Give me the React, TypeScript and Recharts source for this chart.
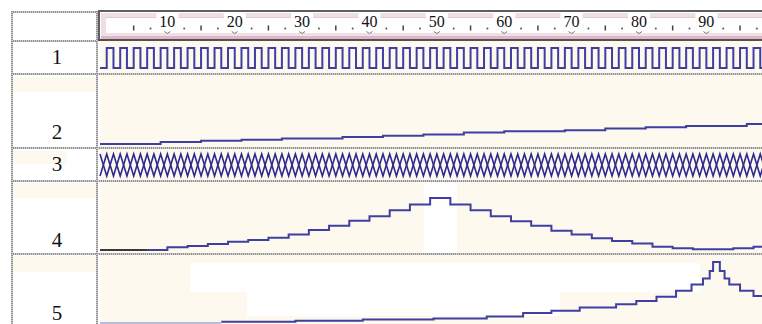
import React from 'react';
import { LineChart, Line, XAxis, YAxis } from 'recharts';

// ---------- data ----------
const X_DOMAIN: [number, number] = [0, 99];

const rulerLabels = [10, 20, 30, 40, 50, 60, 70, 80, 90];
const rulerBars = [5, 15, 25, 35, 45, 55, 65, 75, 85, 95];
const rulerDots = [7.5, 12.5, 17.5, 22.5, 27.5, 32.5, 37.5, 42.5, 47.5, 52.5, 57.5, 62.5, 67.5, 72.5, 77.5, 82.5, 87.5, 92.5, 97.5];

const rowNames = ['1', '2', '3', '4', '5'];

// row 1: clock, one value per time unit (t = 0..99)
const clockLevels = [
  0, 1, 0, 1, 0, 1, 0, 1, 0, 1, 0, 1, 0, 1, 0, 1, 0, 1, 0, 1,
  0, 1, 0, 1, 0, 1, 0, 1, 0, 1, 0, 1, 0, 1, 0, 1, 0, 1, 0, 1,
  0, 1, 0, 1, 0, 1, 0, 1, 0, 1, 0, 1, 0, 1, 0, 1, 0, 1, 0, 1,
  0, 1, 0, 1, 0, 1, 0, 1, 0, 1, 0, 1, 0, 1, 0, 1, 0, 1, 0, 1,
  0, 1, 0, 1, 0, 1, 0, 1, 0, 1, 0, 1, 0, 1, 0, 1, 0, 1, 0, 1,
];

// row 2: slow staircase ramp
const rampTimes = [0, 9, 15, 21, 27, 36, 42, 48, 54, 60, 69, 75, 81, 87, 96, 99];
const rampLevels = [0, 2, 3.3, 4.3, 5.7, 7, 8.3, 9.7, 11.7, 13, 14, 15.7, 17, 18.3, 20.3, 20.3];

// row 3: bus drawn as two antiphase traces (t = 0..99)
const busA = [
  0, 1, 0, 1, 0, 1, 0, 1, 0, 1, 0, 1, 0, 1, 0, 1, 0, 1, 0, 1,
  0, 1, 0, 1, 0, 1, 0, 1, 0, 1, 0, 1, 0, 1, 0, 1, 0, 1, 0, 1,
  0, 1, 0, 1, 0, 1, 0, 1, 0, 1, 0, 1, 0, 1, 0, 1, 0, 1, 0, 1,
  0, 1, 0, 1, 0, 1, 0, 1, 0, 1, 0, 1, 0, 1, 0, 1, 0, 1, 0, 1,
  0, 1, 0, 1, 0, 1, 0, 1, 0, 1, 0, 1, 0, 1, 0, 1, 0, 1, 0, 1,
];
const busB = [
  1, 0, 1, 0, 1, 0, 1, 0, 1, 0, 1, 0, 1, 0, 1, 0, 1, 0, 1, 0,
  1, 0, 1, 0, 1, 0, 1, 0, 1, 0, 1, 0, 1, 0, 1, 0, 1, 0, 1, 0,
  1, 0, 1, 0, 1, 0, 1, 0, 1, 0, 1, 0, 1, 0, 1, 0, 1, 0, 1, 0,
  1, 0, 1, 0, 1, 0, 1, 0, 1, 0, 1, 0, 1, 0, 1, 0, 1, 0, 1, 0,
  1, 0, 1, 0, 1, 0, 1, 0, 1, 0, 1, 0, 1, 0, 1, 0, 1, 0, 1, 0,
];

// row 4: triangle staircase
const triTimes = [0, 10, 13, 16, 19, 22, 25, 28, 31, 34, 37, 40, 43, 46, 49, 52, 55, 58, 61, 64, 67, 70, 73, 76, 79, 82, 85, 88, 94, 97, 99];
const triLevels = [0, 2.7, 4, 6, 8.3, 10, 12.3, 15.7, 20, 24.3, 29.3, 34, 40, 45.7, 52.3, 45.7, 40, 34, 29, 24.3, 19.3, 15.7, 11.7, 9, 6.5, 3.3, 1.7, 0.7, 1.7, 3.3, 3.3];
const triIdleTimes = [0, 7];
const triIdleLevels = [0, 0];

// row 5: slow rise with a sharp peak
const peakTimes = [18, 29, 39, 49.5, 57.4, 62.8, 67, 71.2, 76.6, 79.6, 82.6, 85.5, 87.8, 89.5, 90.5, 91, 92, 92.7, 93.4, 95, 97, 99];
const peakLevels = [1.3, 2.3, 3.6, 4.6, 6.6, 10, 12.3, 15.6, 19, 22.3, 26.6, 32.6, 39, 45, 52.6, 61.6, 52.6, 45, 39, 32.6, 27.3, 27.3];
const peakIdleTimes = [0, 18];
const peakIdleLevels = [0, 0];

// ---------- helpers ----------
const toSeries = (ts: number[], vs: number[]) => ts.map((t, i) => ({ t, v: vs[i] }));
const perUnit = (vs: number[]) => vs.map((v, i) => ({ t: i, v }));

const clockData = perUnit(clockLevels);
const rampData = toSeries(rampTimes, rampLevels);
const busAData = perUnit(busA);
const busBData = perUnit(busB);
const triData = toSeries(triTimes, triLevels);
const triIdleData = toSeries(triIdleTimes, triIdleLevels);
const peakData = toSeries(peakTimes, peakLevels);
const peakIdleData = toSeries(peakIdleTimes, peakIdleLevels);

const WAVE = '#3f3fa2';
const BUS = '#2c2c90';
const CREAM = '#fdf9ee';
const CHART_W = 767; // plot spans x=100..767 for t=0..99; page is cut at 762

const RulerTick = (props: any) => {
  const { x, payload } = props;
  const v = payload.value as number;
  if (rulerLabels.includes(v)) {
    return (
      <g>
        <rect x={x - 11} y={2} width={22} height={19} fill="#ffffff" />
        <text x={x} y={16} textAnchor="middle" fontFamily="Liberation Serif" fontSize={16} fill="#111">
          {v}
        </text>
        <path d={`M${x - 3},${20.5} L${x},${22.5} L${x + 3},${20.5}`} stroke="#777" fill="none" strokeWidth={1} />
      </g>
    );
  }
  if (rulerBars.includes(v)) {
    return <rect x={x - 0.75} y={14.5} width={1.5} height={5} fill="#444" />;
  }
  return <circle cx={x} cy={17.5} r={1} fill="#555" />;
};

const Box = ({ l, t, w, h, bg }: { l: number; t: number; w: number; h: number; bg: string }) => (
  <div style={{ position: 'absolute', left: l, top: t, width: w, height: h, background: bg }} />
);

const HDot = ({ y, x1, x2 }: { y: number; x1: number; x2: number }) => (
  <div
    style={{
      position: 'absolute', left: x1, top: y, width: x2 - x1, height: 2,
      background: 'repeating-linear-gradient(90deg, #8f8f8f 0 1px, #d0d0d0 1px 2px)',
    }}
  />
);
const VDot = ({ x, y1, y2 }: { x: number; y1: number; y2: number }) => (
  <div
    style={{
      position: 'absolute', left: x, top: y1, width: 2, height: y2 - y1,
      background: 'repeating-linear-gradient(180deg, #8f8f8f 0 1px, #d0d0d0 1px 2px)',
    }}
  />
);

type RowProps = { top: number; height: number; mt: number; mb: number; yMax: number; children: React.ReactNode };
const WaveRow = ({ top, height, mt, mb, yMax, children }: RowProps) => (
  <div style={{ position: 'absolute', left: 0, top, width: CHART_W, height }}>
    <LineChart width={CHART_W} height={height} margin={{ top: mt, right: 0, bottom: mb, left: 100 }}>
      <XAxis type="number" dataKey="t" domain={X_DOMAIN} hide />
      <YAxis type="number" domain={[0, yMax]} hide />
      {children}
    </LineChart>
  </div>
);

const labelCenters = [57, 132, 164, 240, 313];

export default function App() {
  const allTicks = [...rulerBars, ...rulerDots, ...rulerLabels].sort((a, b) => a - b);
  return (
    <div
      style={{
        position: 'absolute', left: 0, top: 0, width: 762, height: 324, overflow: 'hidden',
        background: '#ffffff', fontFamily: 'Liberation Serif',
      }}
    >
      {/* plot background */}
      <Box l={100} t={41} w={662} h={283} bg={CREAM} />
      {/* washed-out patches */}
      <Box l={424} t={183} w={33} h={70} bg="#ffffff" />
      <Box l={190} t={263} w={510} h={29} bg="#ffffff" />
      <Box l={247} t={292} w={313} h={24} bg="#ffffff" />
      {/* left column cream bands */}
      <Box l={13} t={77} w={84} h={15} bg={CREAM} />
      <Box l={13} t={151} w={54} h={13} bg={CREAM} />
      <Box l={13} t={183} w={84} h={15} bg={CREAM} />
      <Box l={13} t={256} w={84} h={16} bg={CREAM} />

      {/* ruler frame */}
      <Box l={100} t={13} w={662} h={27} bg="#ffffff" />
      <Box l={101} t={13} w={661} h={4} bg="#efdfe4" />
      <Box l={101} t={17} w={661} h={1} bg="#e2c8d0" />
      <Box l={101} t={13} w={5} h={26} bg="#efdfe4" />
      <Box l={101} t={33} w={661} h={3} bg="#efe0e5" />
      <Box l={101} t={36} w={661} h={3} bg="#d9bac4" />
      <Box l={98} t={10} w={664} h={2} bg="#5f5f5f" />
      <Box l={98} t={10} w={2} h={31} bg="#5f5f5f" />
      <Box l={98} t={39} w={664} h={2} bg="#5a4c52" />

      {/* grid */}
      <HDot y={11} x1={11} x2={98} />
      <HDot y={40} x1={11} x2={98} />
      <HDot y={73} x1={11} x2={762} />
      <HDot y={147} x1={11} x2={762} />
      <HDot y={180} x1={11} x2={762} />
      <HDot y={253} x1={11} x2={762} />
      <VDot x={11} y1={11} y2={324} />
      <VDot x={96} y1={11} y2={324} />

      {/* ruler + row 1 */}
      <div style={{ position: 'absolute', left: 0, top: 11, width: CHART_W, height: 63 }}>
        <LineChart width={CHART_W} height={63} margin={{ top: 0, right: 0, bottom: 6, left: 100 }}>
          <XAxis
            type="number"
            dataKey="t"
            domain={X_DOMAIN}
            orientation="top"
            height={37}
            ticks={allTicks}
            interval={0}
            tick={<RulerTick />}
            tickLine={false}
            axisLine={false}
          />
          <YAxis type="number" domain={[0, 1]} hide />
          <Line data={clockData} dataKey="v" type="stepAfter" stroke={WAVE} strokeWidth={2} dot={false} isAnimationActive={false} />
        </LineChart>
      </div>

      {/* row 2 */}
      <WaveRow top={74} height={74} mt={50} mb={4} yMax={20.3}>
        <Line data={rampData} dataKey="v" type="stepAfter" stroke={WAVE} strokeWidth={2} dot={false} isAnimationActive={false} />
      </WaveRow>

      {/* row 3 */}
      <WaveRow top={148} height={33} mt={6} mb={5} yMax={1}>
        <Line data={busAData} dataKey="v" type="linear" stroke={BUS} strokeWidth={1.6} dot={false} isAnimationActive={false} />
        <Line data={busBData} dataKey="v" type="linear" stroke={BUS} strokeWidth={1.6} dot={false} isAnimationActive={false} />
      </WaveRow>

      {/* row 4 */}
      <WaveRow top={181} height={73} mt={17} mb={4} yMax={52.3}>
        <Line data={triData} dataKey="v" type="stepAfter" stroke={WAVE} strokeWidth={2} dot={false} isAnimationActive={false} />
        <Line data={triIdleData} dataKey="v" type="stepAfter" stroke="#3a3a3a" strokeWidth={2} dot={false} isAnimationActive={false} />
      </WaveRow>

      {/* row 5 */}
      <WaveRow top={254} height={70} mt={8} mb={1} yMax={61.6}>
        <Line data={peakIdleData} dataKey="v" type="stepAfter" stroke="#b9b9dd" strokeWidth={2} dot={false} isAnimationActive={false} />
        <Line data={peakData} dataKey="v" type="stepAfter" stroke={WAVE} strokeWidth={2} dot={false} isAnimationActive={false} />
      </WaveRow>

      {/* row labels */}
      {rowNames.map((n, i) => (
        <div
          key={n}
          style={{
            position: 'absolute', left: 37, width: 40, top: labelCenters[i] - 10, height: 20,
            lineHeight: '20px', fontSize: 21, textAlign: 'center', color: '#111',
            fontFamily: 'Liberation Serif',
          }}
        >
          {n}
        </div>
      ))}
    </div>
  );
}
